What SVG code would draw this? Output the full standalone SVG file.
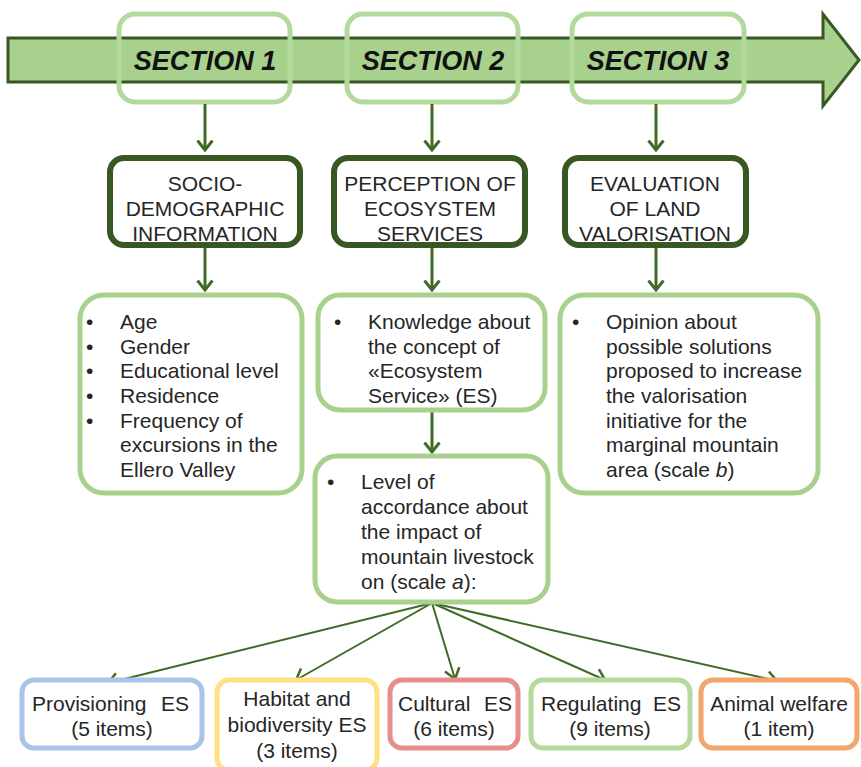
<svg xmlns="http://www.w3.org/2000/svg" width="861" height="767" viewBox="0 0 861 767">
<style>
text{font-family:"Liberation Sans",Arial,sans-serif;fill:#262626;font-size:21px}
.sec{font-weight:bold;font-style:italic;font-size:27px;fill:#111;text-anchor:middle}
.mid{text-anchor:middle}
.end{text-anchor:end}
.secbox{fill:none;stroke:#b3d99c;stroke-width:5}
.head{fill:#fff;stroke:#385723;stroke-width:6}
.lg{fill:#fff;stroke:#a9d18e;stroke-width:5}
.con{stroke:#3f6b27;fill:none}
.thick{stroke-width:3}
.thin{stroke-width:2}
</style>
<defs>
<marker id="chev" viewBox="0 0 12 18" refX="10.5" refY="9" markerWidth="12" markerHeight="18" markerUnits="userSpaceOnUse" orient="auto">
<path d="M1,1.5 L10.5,9 L1,16.5" fill="none" stroke="#3f6b27" stroke-width="3"/>
</marker>
<marker id="chev2" viewBox="0 0 12 18" refX="11" refY="9" markerWidth="12" markerHeight="18" markerUnits="userSpaceOnUse" orient="auto">
<path d="M1,1.5 L11,9 L1,16.5" fill="none" stroke="#3f6b27" stroke-width="2.5"/>
</marker>
</defs>
<rect width="861" height="767" fill="#fff"/>
<g id="timeline">
<polygon points="8,38 823,38 823,14 859,60 823,106 823,82 8,82" fill="#a9d18e" stroke="#385723" stroke-width="3" stroke-linejoin="miter"/>
</g>
<g id="section1">
<rect class="secbox" x="119" y="14" width="171" height="88" rx="16"/>
<text class="sec" x="205" y="70">SECTION 1</text>
</g>
<g id="section2">
<rect class="secbox" x="347" y="14" width="171" height="88" rx="16"/>
<text class="sec" x="433" y="70">SECTION 2</text>
</g>
<g id="section3">
<rect class="secbox" x="572" y="14" width="172" height="88" rx="16"/>
<text class="sec" x="658" y="70">SECTION 3</text>
</g>
<g id="connectors">
<line class="con thick" x1="205" y1="104" x2="205" y2="150" marker-end="url(#chev)"/>
<line class="con thick" x1="432" y1="104" x2="432" y2="150" marker-end="url(#chev)"/>
<line class="con thick" x1="656" y1="104" x2="656" y2="150" marker-end="url(#chev)"/>
<line class="con thick" x1="205" y1="248" x2="205" y2="290" marker-end="url(#chev)"/>
<line class="con thick" x1="432" y1="248" x2="432" y2="290" marker-end="url(#chev)"/>
<line class="con thick" x1="656" y1="248" x2="656" y2="290" marker-end="url(#chev)"/>
<line class="con thick" x1="432" y1="412" x2="432" y2="452" marker-end="url(#chev)"/>
<line class="con thin" x1="432" y1="603" x2="108" y2="683" marker-end="url(#chev2)"/>
<line class="con thin" x1="432" y1="603" x2="296" y2="680" marker-end="url(#chev2)"/>
<line class="con thin" x1="432" y1="603" x2="455" y2="679" marker-end="url(#chev2)"/>
<line class="con thin" x1="432" y1="603" x2="605" y2="680" marker-end="url(#chev2)"/>
<line class="con thin" x1="432" y1="603" x2="777" y2="681" marker-end="url(#chev2)"/>
</g>
<g id="socio">
<rect class="head" x="110" y="158" width="190" height="87" rx="14"/>
<text class="mid" x="205" y="191">SOCIO-</text>
<text class="mid" x="205" y="216">DEMOGRAPHIC</text>
<text class="mid" x="205" y="241">INFORMATION</text>
</g>
<g id="perception">
<rect class="head" x="334" y="158" width="191" height="87" rx="14"/>
<text class="mid" x="430" y="191">PERCEPTION OF</text>
<text class="mid" x="430" y="216">ECOSYSTEM</text>
<text class="mid" x="430" y="241">SERVICES</text>
</g>
<g id="evaluation">
<rect class="head" x="565" y="158" width="181" height="87" rx="14"/>
<text class="mid" x="655" y="191">EVALUATION</text>
<text class="mid" x="655" y="216">OF LAND</text>
<text class="mid" x="655" y="241">VALORISATION</text>
</g>
<g id="socio-items">
<rect class="lg" x="80" y="295" width="222" height="198" rx="24"/>
<text x="86" y="329">•</text><text x="120" y="329">Age</text>
<text x="86" y="354">•</text><text x="120" y="354">Gender</text>
<text x="86" y="378">•</text><text x="120" y="378">Educational level</text>
<text x="86" y="403">•</text><text x="120" y="403">Residence</text>
<text x="86" y="428">•</text><text x="120" y="428">Frequency of</text>
<text x="120" y="452">excursions in the</text>
<text x="120" y="477">Ellero Valley</text>
</g>
<g id="knowledge">
<rect class="lg" x="318" y="295" width="227" height="115" rx="22"/>
<text x="334" y="329">•</text><text x="368" y="329">Knowledge about</text>
<text x="368" y="354">the concept of</text>
<text x="368" y="378">«Ecosystem</text>
<text x="368" y="403">Service» (ES)</text>
</g>
<g id="opinion">
<rect class="lg" x="560" y="295" width="258" height="198" rx="24"/>
<text x="572" y="329">•</text><text x="606" y="329">Opinion about</text>
<text x="606" y="354">possible solutions</text>
<text x="606" y="378">proposed to increase</text>
<text x="606" y="403">the valorisation</text>
<text x="606" y="428">initiative for the</text>
<text x="606" y="452">marginal mountain</text>
<text x="606" y="477">area (scale <tspan font-style="italic">b</tspan>)</text>
</g>
<g id="accordance">
<rect class="lg" x="315" y="456" width="233" height="146" rx="22"/>
<text x="327" y="489">•</text><text x="361" y="489">Level of</text>
<text x="361" y="514">accordance about</text>
<text x="361" y="539">the impact of</text>
<text x="361" y="564">mountain livestock</text>
<text x="361" y="589">on (scale <tspan font-style="italic">a</tspan>):</text>
</g>
<g id="provisioning">
<rect x="22" y="680" width="180" height="68" rx="12" fill="#fff" stroke="#a9c4e8" stroke-width="5"/>
<text x="32" y="711">Provisioning</text><text class="end" x="189" y="711">ES</text>
<text class="mid" x="112" y="736">(5 items)</text>
</g>
<g id="habitat">
<rect x="217" y="680" width="160" height="90" rx="12" fill="#fff" stroke="#ffe083" stroke-width="5"/>
<text class="mid" x="297" y="706">Habitat and</text>
<text class="mid" x="297" y="732">biodiversity ES</text>
<text class="mid" x="297" y="758">(3 items)</text>
</g>
<g id="cultural">
<rect x="390" y="680" width="128" height="68" rx="12" fill="#fff" stroke="#e88c8c" stroke-width="5"/>
<text x="398" y="711">Cultural</text><text class="end" x="512" y="711">ES</text>
<text class="mid" x="454" y="736">(6 items)</text>
</g>
<g id="regulating">
<rect x="531" y="680" width="159" height="68" rx="12" fill="#fff" stroke="#b5da9e" stroke-width="5"/>
<text x="541" y="711">Regulating</text><text class="end" x="681" y="711">ES</text>
<text class="mid" x="610" y="736">(9 items)</text>
</g>
<g id="animal">
<rect x="701" y="680" width="156" height="68" rx="12" fill="#fff" stroke="#f4a56c" stroke-width="5"/>
<text class="mid" x="779" y="711">Animal welfare</text>
<text class="mid" x="779" y="736">(1 item)</text>
</g>
</svg>
